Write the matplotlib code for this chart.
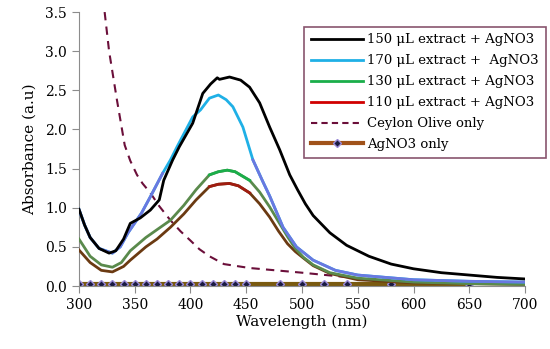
import numpy as np
import matplotlib.pyplot as plt
from matplotlib.lines import Line2D

plt.rcParams['font.family'] = ['DejaVu Serif']

# 150 uL extract + AgNO3
wl_150 = [300, 305, 310, 318, 327, 333, 340, 346, 355, 364, 372, 376, 384, 390, 402, 411, 418,
          424, 426, 435, 445, 453, 462, 471, 480, 489, 496, 503, 510, 525, 540, 560, 580, 600,
          625, 650, 675, 700]
abs_150 = [0.98, 0.78, 0.62, 0.48, 0.42, 0.45, 0.6, 0.8, 0.87, 0.97, 1.1, 1.35, 1.61, 1.78, 2.08,
           2.46, 2.58, 2.66, 2.64, 2.67, 2.63, 2.54, 2.34, 2.03, 1.74, 1.42, 1.23, 1.05, 0.9, 0.68,
           0.52, 0.38, 0.28, 0.22, 0.17, 0.14, 0.11, 0.09]

# 170 uL extract + AgNO3
wl_170 = [300, 305, 310, 318, 330, 337, 344, 356, 364, 375, 382, 388, 402, 409, 417, 425, 432,
          438, 447, 456, 465, 471, 477, 483, 495, 510, 530, 550, 600, 650, 700]
abs_170 = [0.98, 0.78, 0.62, 0.48, 0.42, 0.5, 0.68, 0.93, 1.14, 1.44, 1.61, 1.78, 2.16, 2.25, 2.4,
           2.44, 2.38, 2.29, 2.03, 1.61, 1.33, 1.15, 0.95, 0.75, 0.5, 0.33, 0.2, 0.14, 0.08, 0.06, 0.05]

# 130 uL extract + AgNO3
wl_130 = [300, 310, 320, 330, 338, 346, 360, 370, 382, 394, 405, 417, 425, 433, 440, 453, 462,
          471, 479, 487, 494, 501, 510, 525, 550, 600, 650, 700]
abs_130 = [0.6, 0.38, 0.27, 0.24, 0.3, 0.45, 0.62, 0.72, 0.84, 1.03, 1.23, 1.42, 1.46, 1.48, 1.46,
           1.35, 1.2, 1.01, 0.82, 0.63, 0.48, 0.37, 0.27, 0.17, 0.1, 0.05, 0.03, 0.02]

# 110 uL extract + AgNO3
wl_110 = [300, 310, 320, 330, 340, 346, 360, 370, 382, 394, 405, 417, 425, 435, 443, 453, 462,
          471, 479, 487, 494, 501, 510, 525, 550, 600, 700]
abs_110 = [0.46, 0.3, 0.2, 0.18, 0.25, 0.33, 0.5, 0.6, 0.75, 0.92, 1.1, 1.27, 1.3, 1.31, 1.28,
           1.19, 1.05, 0.88, 0.7, 0.54, 0.44, 0.36, 0.26, 0.16, 0.08, 0.04, 0.02]

# Ceylon Olive only
wl_olive = [323, 327, 334, 341, 346, 352, 357, 364, 372, 382, 391, 400, 408, 417, 430, 453, 500,
            550, 600, 650, 660]
abs_olive = [3.5, 3.0, 2.38, 1.8, 1.6, 1.42, 1.31, 1.19, 1.02, 0.84, 0.7, 0.58, 0.47, 0.38, 0.28,
             0.23, 0.17, 0.1, 0.06, 0.03, 0.03]

# AgNO3 only
wl_ag = [300, 310, 320, 330, 340, 350, 360, 370, 380, 390, 400, 410, 420, 430, 440, 450,
         480, 500, 520, 540, 580, 650]
abs_ag = [0.02] * len(wl_ag)

fig = plt.figure(figsize=(5.5, 3.49), dpi=100)
ax = fig.add_axes([0.1436, 0.1805, 0.811, 0.785])

ax.plot(wl_ag, abs_ag, color='#7a5a10', lw=3, marker='D', ms=4.5,
        mfc='#1a1a40', mec='#9a8ad8', mew=1, zorder=2)
ax.plot(wl_olive, abs_olive, color='#6b0f3a', lw=1.5, ls=(0, (4, 3)), zorder=3)

# the coloured curves look duller away from their peaks in the original
ax.plot(wl_110, abs_110, color='#6b3a12', lw=2, zorder=4)
wl110 = np.array(wl_110)
m = (wl110 >= 417) & (wl110 <= 453)
ax.plot(wl110[m], np.array(abs_110)[m], color='#a01c10', lw=2, zorder=4)

ax.plot(wl_130, abs_130, color='#5a8a4c', lw=2, zorder=5)
wl130 = np.array(wl_130)
m = (wl130 >= 417) & (wl130 <= 453)
ax.plot(wl130[m], np.array(abs_130)[m], color='#1aae4a', lw=2, zorder=5)

ax.plot(wl_170, abs_170, color='#1fb0e6', lw=2, zorder=6)
wl170 = np.array(wl_170)
a170 = np.array(abs_170)
m = wl170 <= 375
ax.plot(wl170[m], a170[m], color='#6a78e0', lw=2, zorder=6)
m = wl170 >= 456
ax.plot(wl170[m], a170[m], color='#6a78e0', lw=2, zorder=6)

ax.plot(wl_150, abs_150, color='black', lw=2, zorder=7)

ax.set_xlim(300, 700)
ax.set_ylim(0, 3.5)
ax.set_xticks(np.arange(300, 701, 50))
ax.set_yticks(np.arange(0, 3.51, 0.5))
ax.set_yticklabels(['%.1f' % v for v in np.arange(0, 3.51, 0.5)])
for s in ['top', 'right']:
    ax.spines[s].set_visible(False)
for s in ['left', 'bottom']:
    ax.spines[s].set_color('#8c8c8c')
ax.tick_params(colors='#8c8c8c', labelcolor='black', labelsize=10, length=5)
ax.set_xlabel('Wavelength (nm)', fontsize=11, labelpad=2)
ax.set_ylabel('Absorbance (a.u)', fontsize=11, labelpad=6)

handles = [
    Line2D([], [], color='black', lw=2),
    Line2D([], [], color='#1fb0e6', lw=2),
    Line2D([], [], color='#1aae4a', lw=2),
    Line2D([], [], color='#d00000', lw=2),
    Line2D([], [], color='#6b0f3a', lw=1.5, ls=(0, (3, 2))),
    Line2D([], [], color='#a0521a', lw=3, marker='D', ms=4.5, mfc='#1a1a40', mec='#9a8ad8'),
]
labels = ['150 μL extract + AgNO3', '170 μL extract +  AgNO3', '130 μL extract + AgNO3',
          '110 μL extract + AgNO3', 'Ceylon Olive only', 'AgNO3 only']
leg = fig.legend(handles, labels, loc='upper right', bbox_to_anchor=(0.992, 0.923),
                 fontsize=9.5, frameon=True, fancybox=False, handlelength=4.0,
                 handletextpad=0.3, labelspacing=0.6, borderpad=0.5, borderaxespad=0)
leg.get_frame().set_edgecolor('#6b2a4a')
leg.get_frame().set_linewidth(1.2)

fig.savefig('out.png', dpi=100)
